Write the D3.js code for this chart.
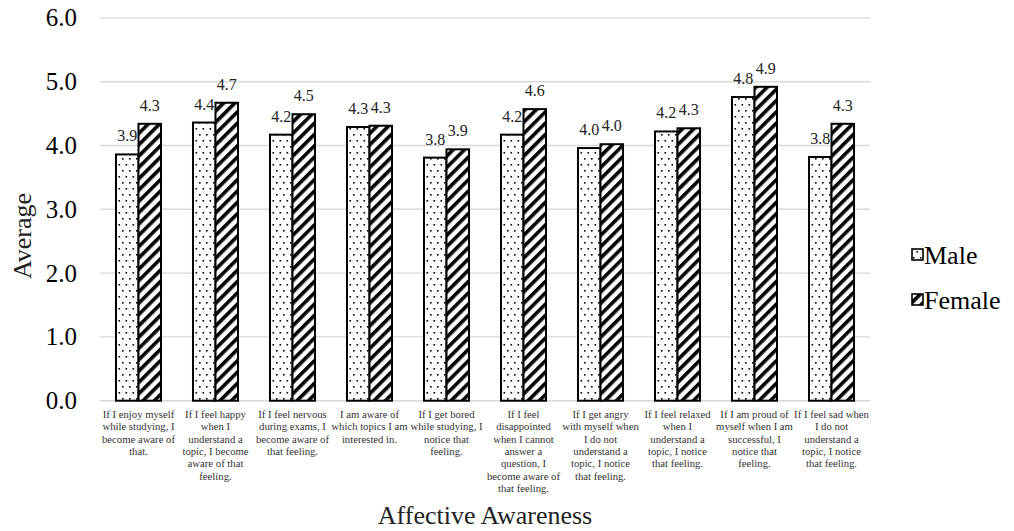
<!DOCTYPE html>
<html>
<head>
<meta charset="utf-8">
<script src="https://cdn.jsdelivr.net/npm/d3@7"></script>
<style>
  html, body { margin: 0; padding: 0; background: #fff; }
  svg, svg text { font-family: "Liberation Serif", "Times New Roman", Times, "DejaVu Serif", serif; }
</style>
</head>
<body>
<svg id="chart" width="1014" height="531" font-family="Liberation Serif, Times New Roman, DejaVu Serif, serif"></svg>
<script>
// Survey items (line breaks mark how each label wraps under its group)
const categories = [
  "If I enjoy myself\nwhile studying, I\nbecome aware of\nthat.",
  "If I feel happy\nwhen I\nunderstand a\ntopic, I become\naware of that\nfeeling.",
  "If I feel nervous\nduring exams, I\nbecome aware of\nthat feeling.",
  "I am aware of\nwhich topics I am\ninterested in.",
  "If I get bored\nwhile studying, I\nnotice that\nfeeling.",
  "If I feel\ndisappointed\nwhen I cannot\nanswer a\nquestion, I\nbecome aware of\nthat feeling.",
  "If I get angry\nwith myself when\nI do not\nunderstand a\ntopic, I notice\nthat feeling.",
  "If I feel relaxed\nwhen I\nunderstand a\ntopic, I notice\nthat feeling.",
  "If I am proud of\nmyself when I am\nsuccessful, I\nnotice that\nfeeling.",
  "If I feel sad when\nI do not\nunderstand a\ntopic, I notice\nthat feeling."
];
const seriesNames = ["Male", "Female"];
const maleValues   = [3.86, 4.36, 4.17, 4.29, 3.81, 4.17, 3.96, 4.22, 4.76, 3.82];
const femaleValues = [4.34, 4.67, 4.49, 4.31, 3.94, 4.57, 4.02, 4.27, 4.92, 4.34];
const yTicks = [0, 1, 2, 3, 4, 5, 6];
const xTitle = "Affective Awareness";
const yTitle = "Average";

const FONT = "'Liberation Serif', 'Times New Roman', 'DejaVu Serif', serif";
const svg = d3.select("#chart");
const plot = { left: 100, right: 870, top: 17.9, bottom: 400.7 };

// Fill patterns: dotted for Male, wide upward diagonal for Female
const defs = svg.append("defs");
const dots = defs.append("pattern")
  .attr("id", "pat-male").attr("patternUnits", "userSpaceOnUse")
  .attr("width", 7).attr("height", 12);
dots.append("rect").attr("width", 7).attr("height", 12).attr("fill", "#fff");
dots.append("rect").attr("x", 1).attr("y", 2).attr("width", 1.6).attr("height", 1.6).attr("fill", "#000");
dots.append("rect").attr("x", 4.5).attr("y", 8).attr("width", 1.6).attr("height", 1.6).attr("fill", "#000");

const stripes = defs.append("pattern")
  .attr("id", "pat-female").attr("patternUnits", "userSpaceOnUse")
  .attr("width", 8).attr("height", 8)
  .attr("patternTransform", "rotate(45)");
stripes.append("rect").attr("width", 8).attr("height", 8).attr("fill", "#fff");
stripes.append("rect").attr("width", 3.6).attr("height", 8).attr("fill", "#000");

const fills = { Male: "url(#pat-male)", Female: "url(#pat-female)" };

// Scales
const x0 = d3.scaleBand().domain(categories).range([plot.left, plot.right]).padding(0);
const x1 = d3.scaleBand().domain(seriesNames).range([0, x0.bandwidth()]).paddingInner(0).paddingOuter(0.71);
const y = d3.scaleLinear().domain([0, 6]).range([plot.bottom, plot.top]);

// Gridlines
svg.append("g").selectAll("line").data(yTicks).join("line")
  .attr("x1", plot.left).attr("x2", plot.right)
  .attr("y1", d => y(d)).attr("y2", d => y(d))
  .attr("stroke", "#d9d9d9").attr("stroke-width", 1.4);

// Y tick labels
svg.append("g").selectAll("text").data(yTicks).join("text")
  .attr("x", 77).attr("y", d => y(d)).attr("dy", "0.34em")
  .attr("text-anchor", "end").attr("font-family", FONT).attr("font-size", 25).attr("fill", "#000")
  .text(d => d3.format(".1f")(d));

// Bars
const rows = categories.map((c, i) => ({ cat: c, vals: [
  { s: "Male", v: maleValues[i] }, { s: "Female", v: femaleValues[i] }
] }));

const groups = svg.append("g").selectAll("g").data(rows).join("g")
  .attr("transform", d => `translate(${x0(d.cat)},0)`);

groups.selectAll("rect").data(d => d.vals).join("rect")
  .attr("x", d => x1(d.s)).attr("width", x1.bandwidth())
  .attr("y", d => y(d.v)).attr("height", d => y(0) - y(d.v))
  .attr("fill", d => fills[d.s]).attr("stroke", "#000").attr("stroke-width", 2);

groups.selectAll("text").data(d => d.vals).join("text")
  .attr("x", d => x1(d.s) + x1.bandwidth() / 2)
  .attr("y", d => y(d.v) - 13)
  .attr("text-anchor", "middle").attr("font-family", FONT).attr("font-size", 16).attr("fill", "#222")
  .text(d => d3.format(".1f")(d.v));

// Category labels
const catLabels = svg.append("g").selectAll("text").data(categories).join("text")
  .attr("x", d => x0(d) + x0.bandwidth() / 2)
  .attr("y", 418)
  .attr("text-anchor", "middle").attr("font-family", FONT).attr("font-size", 10.7).attr("fill", "#333");
catLabels.selectAll("tspan").data(d => d.split("\n")).join("tspan")
  .attr("x", function () { return d3.select(this.parentNode).attr("x"); })
  .attr("dy", (d, i) => i === 0 ? 0 : 12.3)
  .text(d => d);

// Axis titles
svg.append("text")
  .attr("x", (plot.left + plot.right) / 2).attr("y", 524)
  .attr("text-anchor", "middle").attr("font-family", FONT).attr("font-size", 26).attr("fill", "#222")
  .text(xTitle);
svg.append("text")
  .attr("transform", "translate(31,236) rotate(-90)")
  .attr("text-anchor", "middle").attr("font-family", FONT).attr("font-size", 26).attr("fill", "#222")
  .text(yTitle);

// Legend
const legend = svg.append("g").selectAll("g").data(seriesNames).join("g")
  .attr("transform", (d, i) => `translate(912,${255 + i * 45})`);
legend.append("rect")
  .attr("x", 0).attr("y", -6).attr("width", 11).attr("height", 11)
  .attr("fill", d => fills[d]).attr("stroke", "#000").attr("stroke-width", 1.6);
legend.append("text")
  .attr("x", 12).attr("y", 0).attr("dy", "0.35em")
  .attr("font-family", FONT).attr("font-size", 26).attr("fill", "#000")
  .text(d => d);
</script>
</body>
</html>
